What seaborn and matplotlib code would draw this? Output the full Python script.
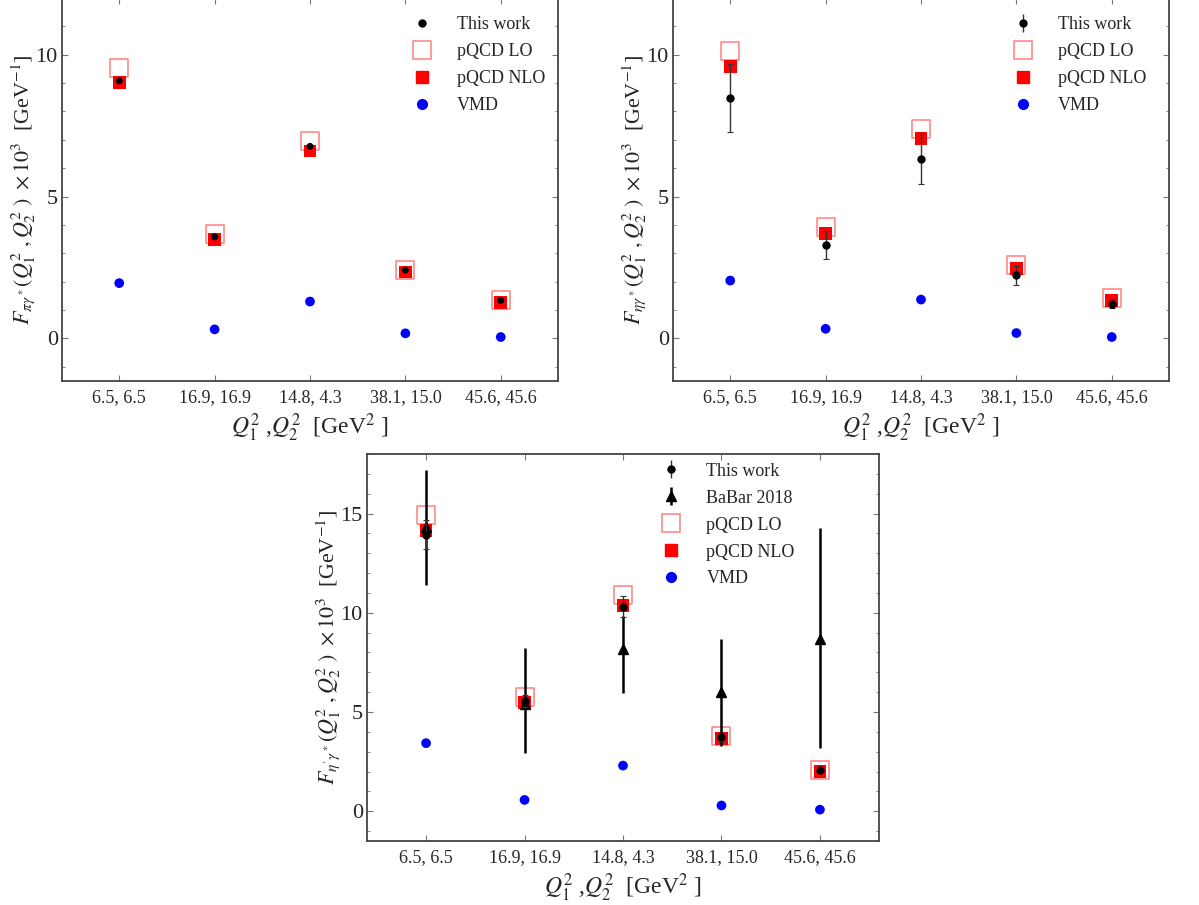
import numpy as np
import pandas as pd
import matplotlib
matplotlib.use("Agg")
import matplotlib.pyplot as plt
import seaborn as sns
from matplotlib.ticker import MultipleLocator
from matplotlib.lines import Line2D

# ---------------- data ----------------
categories = ["6.5, 6.5", "16.9, 16.9", "14.8, 4.3", "38.1, 15.0", "45.6, 45.6"]

# pi0
pi_this = [9.08, 3.58, 6.77, 2.41, 1.34]
pi_lo = [9.54, 3.69, 6.96, 2.42, 1.34]
pi_nlo = [9.02, 3.50, 6.61, 2.34, 1.27]
pi_vmd = [1.95, 0.32, 1.30, 0.18, 0.05]

# eta
eta_this = [8.47, 3.29, 6.33, 2.22, 1.22]
eta_this_err = [1.2, 0.5, 0.9, 0.33, 0.16]
eta_lo = [10.14, 3.92, 7.39, 2.58, 1.43]
eta_nlo = [9.59, 3.71, 7.04, 2.47, 1.34]
eta_vmd = [2.04, 0.34, 1.37, 0.19, 0.05]

# eta'
etap_this = [13.92, 5.55, 10.31, 3.72, 2.07]
etap_this_err = [0.73, 0.3, 0.53, 0.22, 0.15]
etap_babar = [14.33, 5.38, 8.19, 6.00, 8.66]
etap_babar_up = [2.85, 2.84, 1.65, 2.69, 5.62]
etap_babar_dn = [2.93, 2.47, 2.24, 2.69, 5.47]
etap_lo = [14.95, 5.75, 10.90, 3.78, 2.09]
etap_nlo = [14.14, 5.47, 10.36, 3.65, 2.00]
etap_vmd = [3.43, 0.57, 2.30, 0.29, 0.08]

# ---------------- style ----------------
sns.set_style("ticks")
plt.rcParams["font.family"] = ["Liberation Serif", "DejaVu Serif"]
plt.rcParams["mathtext.fontset"] = "stix"

LO_C = "#ff8080"
NLO_C = "#ff0000"
VMD_C = "#0000ff"

fig = plt.figure(figsize=(11.99, 9.05), dpi=100)
W, H = 1199.0, 905.0
ax1 = fig.add_axes([62 / W, (H - 381) / H, 496 / W, 383 / H])
ax2 = fig.add_axes([673 / W, (H - 381) / H, 496 / W, 383 / H])
ax3 = fig.add_axes([367 / W, (H - 841) / H, 512 / W, 387 / H])

xpos = np.arange(len(categories))


def draw(ax, this, lo, nlo, vmd, this_err=None, babar=None, bup=None, bdn=None):
    df = pd.DataFrame({"x": xpos, "lo": lo, "nlo": nlo, "vmd": vmd, "this": this})
    sns.scatterplot(data=df, x="x", y="lo", marker="s", s=13.0 ** 2,
                    facecolor="none", edgecolor=LO_C, linewidth=1.1, ax=ax, zorder=2)
    sns.scatterplot(data=df, x="x", y="nlo", marker="s", s=9.2 ** 2,
                    color=NLO_C, edgecolor="none", linewidth=0, ax=ax, zorder=3)
    sns.scatterplot(data=df, x="x", y="vmd", marker="o", s=7.0 ** 2,
                    color=VMD_C, edgecolor="none", linewidth=0, ax=ax, zorder=3)
    if babar is not None:
        ax.errorbar(xpos, babar, yerr=[bdn, bup], fmt="^", color="black",
                    ms=7, elinewidth=1.8, capsize=0, zorder=4)
    if this_err is not None:
        ax.errorbar(xpos, this, yerr=this_err, fmt="o", color="black", ms=5,
                    ecolor="#333333", elinewidth=1.0, capsize=2.5, capthick=0.8, zorder=5)
    else:
        sns.scatterplot(data=df, x="x", y="this", marker="o", s=5.0 ** 2,
                        color="black", edgecolor="none", linewidth=0, ax=ax, zorder=5)

    ax.set_xlim(-0.6, len(categories) - 0.4)
    ax.set_xticks(xpos)
    ax.set_xticklabels(categories, fontsize=13)
    ax.yaxis.set_major_locator(MultipleLocator(5))
    ax.yaxis.set_minor_locator(MultipleLocator(1))
    ax.tick_params(which="both", direction="in", top=True, right=True, color="#777777")
    ax.tick_params(which="major", length=4, width=0.8)
    ax.tick_params(which="minor", length=2.5, width=0.6)
    ax.tick_params(axis="y", labelsize=16, pad=3)
    ax.tick_params(axis="x", pad=6)
    for sp in ax.spines.values():
        sp.set_color("#444444")
        sp.set_linewidth(1.3)
    ax.set_xlabel(r"$Q_1^2$ ,$Q_2^2$  [GeV$^2$ ]", fontsize=17, labelpad=4)


YL_FS = 15.8
draw(ax1, pi_this, pi_lo, pi_nlo, pi_vmd)
ax1.set_ylim(-1.5, 12)
ax1.set_ylabel(r"$F_{\pi\gamma^*}(Q_1^2\ ,Q_2^2\ )\ \times 10^3$  [GeV$^{-1}$]", fontsize=YL_FS, labelpad=-1)

draw(ax2, eta_this, eta_lo, eta_nlo, eta_vmd, this_err=eta_this_err)
ax2.set_ylim(-1.5, 12)
ax2.set_ylabel(r"$F_{\eta\gamma^*}(Q_1^2\ ,Q_2^2\ )\ \times 10^3$  [GeV$^{-1}$]", fontsize=YL_FS, labelpad=-1)

draw(ax3, etap_this, etap_lo, etap_nlo, etap_vmd, this_err=etap_this_err,
     babar=etap_babar, bup=etap_babar_up, bdn=etap_babar_dn)
ax3.set_ylim(-1.5, 18)
ax3.set_ylabel(r"$F_{\eta^{\prime}\gamma^*}(Q_1^2\ ,Q_2^2\ )\ \times 10^3$  [GeV$^{-1}$]", fontsize=YL_FS, labelpad=-1)

# ---------------- legends ----------------
h_this_plain = Line2D([], [], marker="o", ls="none", color="black", ms=5)
h_lo = Line2D([], [], marker="s", ls="none", mfc="none", mec=LO_C, ms=13.0, mew=1.1)
h_nlo = Line2D([], [], marker="s", ls="none", color=NLO_C, ms=9.2)
h_vmd = Line2D([], [], marker="o", ls="none", color=VMD_C, ms=7)

leg_kw = dict(frameon=False, fontsize=13, handletextpad=1.2, labelspacing=0.55,
              borderaxespad=0.3, handlelength=1.5)

ax1.legend([h_this_plain, h_lo, h_nlo, h_vmd], ["This work", "pQCD LO", "pQCD NLO", "VMD"],
           loc="upper right", bbox_to_anchor=(1.0, 0.985), **leg_kw)

eb_this = ax2.errorbar([], [], yerr=[], fmt="o", color="black", ms=5, ecolor="#333333",
                       elinewidth=1.0, capsize=2.5, capthick=0.8)
ax2.legend([eb_this, h_lo, h_nlo, h_vmd], ["This work", "pQCD LO", "pQCD NLO", "VMD"],
           loc="upper right", bbox_to_anchor=(0.98, 0.985), **leg_kw)

eb_this3 = ax3.errorbar([], [], yerr=[], fmt="o", color="black", ms=5, ecolor="#333333",
                        elinewidth=1.0, capsize=2.5, capthick=0.8)
eb_babar = ax3.errorbar([], [], yerr=[], fmt="^", color="black", ms=7, elinewidth=1.8, capsize=0)
ax3.legend([eb_this3, eb_babar, h_lo, h_nlo, h_vmd],
           ["This work", "BaBar 2018", "pQCD LO", "pQCD NLO", "VMD"],
           loc="upper right", bbox_to_anchor=(0.86, 1.01), **leg_kw)

fig.savefig("out.png", dpi=100)
